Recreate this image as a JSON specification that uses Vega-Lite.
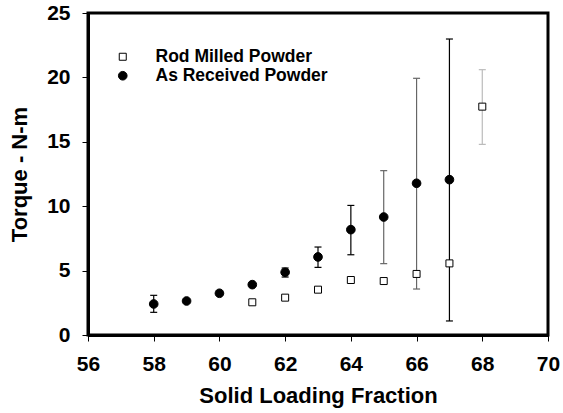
{
  "$schema": "https://vega.github.io/schema/vega-lite/v6.json",
  "width": 460,
  "height": 322,
  "autosize": {"type": "none"},
  "padding": {"left": 88, "top": 13, "right": 15, "bottom": 78},
  "background": "white",
  "config": {
    "font": "Liberation Sans",
    "view": {"stroke": "black", "strokeWidth": 3},
    "axis": {
      "grid": false,
      "domainColor": "black",
      "domainWidth": 3,
      "tickColor": "black",
      "tickWidth": 1,
      "tickSize": 6,
      "labelFont": "Liberation Sans",
      "labelFontSize": 21,
      "labelFontWeight": "bold",
      "labelColor": "black",
      "labelFlush": false,
      "labelOverlap": false,
      "titleFont": "Liberation Sans",
      "titleFontSize": 22,
      "titleFontWeight": "bold",
      "titleColor": "black"
    },
    "axisX": {"labelPadding": 12, "titleY": 67, "titleBaseline": "alphabetic"},
    "axisY": {"labelPadding": 12, "titleX": -62, "titleY": 161, "titleAngle": -90, "titleAlign": "center", "titleBaseline": "alphabetic"}
  },
  "data": {
    "values": [
      {"x": 58, "torque": 2.41, "lo": 1.76, "hi": 3.08, "powder": "As Received Powder"},
      {"x": 59, "torque": 2.64, "powder": "As Received Powder"},
      {"x": 60, "torque": 3.24, "powder": "As Received Powder"},
      {"x": 61, "torque": 3.91, "powder": "As Received Powder"},
      {"x": 62, "torque": 4.87, "lo": 4.5, "hi": 5.2, "powder": "As Received Powder"},
      {"x": 63, "torque": 6.06, "lo": 5.25, "hi": 6.83, "powder": "As Received Powder"},
      {"x": 64, "torque": 8.18, "lo": 6.23, "hi": 10.06, "powder": "As Received Powder"},
      {"x": 65, "torque": 9.16, "lo": 5.54, "hi": 12.76, "powder": "As Received Powder"},
      {"x": 66, "torque": 11.78, "lo": 3.57, "hi": 19.93, "powder": "As Received Powder"},
      {"x": 67, "torque": 12.06, "lo": 1.09, "hi": 22.98, "powder": "As Received Powder"},
      {"x": 61, "torque": 2.54, "powder": "Rod Milled Powder"},
      {"x": 62, "torque": 2.9, "powder": "Rod Milled Powder"},
      {"x": 63, "torque": 3.52, "powder": "Rod Milled Powder"},
      {"x": 64, "torque": 4.27, "powder": "Rod Milled Powder"},
      {"x": 65, "torque": 4.19, "powder": "Rod Milled Powder"},
      {"x": 66, "torque": 4.74, "powder": "Rod Milled Powder"},
      {"x": 67, "torque": 5.56, "powder": "Rod Milled Powder"},
      {"x": 68, "torque": 17.73, "lo": 14.8, "hi": 20.6, "powder": "Rod Milled Powder"}
    ]
  },
  "encoding": {
    "x": {
      "field": "x",
      "type": "quantitative",
      "title": "Solid Loading Fraction",
      "scale": {"domain": [56, 70], "nice": false, "zero": false},
      "axis": {"values": [56, 58, 60, 62, 64, 66, 68, 70]}
    }
  },
  "layer": [
    {
      "transform": [{"filter": "isValid(datum.lo)"}],
      "mark": {"type": "rule", "strokeWidth": 1.2, "opacity": 1},
      "encoding": {
        "y": {"field": "lo", "type": "quantitative", "title": "Torque - N-m", "scale": {"domain": [0, 25], "nice": false}, "axis": {"values": [0, 5, 10, 15, 20, 25]}},
        "y2": {"field": "hi"},
        "color": {"condition": [{"test": "datum.x == 68", "value": "#bbbbbb"}, {"test": "datum.x == 65 || datum.x == 66", "value": "#666666"}], "value": "black"}
      }
    },
    {
      "transform": [{"filter": "isValid(datum.lo)"}],
      "mark": {"type": "tick", "orient": "horizontal", "size": 7, "thickness": 1.2, "opacity": 1},
      "encoding": {
        "y": {"field": "lo", "type": "quantitative", "title": "Torque - N-m"},
        "color": {"condition": [{"test": "datum.x == 68", "value": "#bbbbbb"}, {"test": "datum.x == 65 || datum.x == 66", "value": "#666666"}], "value": "black"}
      }
    },
    {
      "transform": [{"filter": "isValid(datum.hi)"}],
      "mark": {"type": "tick", "orient": "horizontal", "size": 7, "thickness": 1.2, "opacity": 1},
      "encoding": {
        "y": {"field": "hi", "type": "quantitative", "title": "Torque - N-m"},
        "color": {"condition": [{"test": "datum.x == 68", "value": "#bbbbbb"}, {"test": "datum.x == 65 || datum.x == 66", "value": "#666666"}], "value": "black"}
      }
    },
    {
      "mark": {"type": "point", "stroke": "black", "strokeWidth": 1, "opacity": 1, "fillOpacity": 1},
      "encoding": {
        "y": {"field": "torque", "type": "quantitative", "title": "Torque - N-m"},
        "shape": {"field": "powder", "type": "nominal", "scale": {"domain": ["Rod Milled Powder", "As Received Powder"], "range": ["square", "circle"]}, "legend": {"orient": "none", "legendX": 26, "legendY": 35, "title": null, "padding": 0, "labelFont": "Liberation Sans", "labelFontSize": 17.5, "labelFontWeight": "bold", "labelColor": "black", "labelOffset": 24, "labelLimit": 400, "rowPadding": 0, "symbolStrokeColor": "black", "symbolStrokeWidth": 1}},
        "fill": {"field": "powder", "type": "nominal", "scale": {"domain": ["Rod Milled Powder", "As Received Powder"], "range": ["white", "black"]}},
        "size": {"field": "powder", "type": "nominal", "scale": {"domain": ["Rod Milled Powder", "As Received Powder"], "range": [49, 75]}}
      }
    }
  ]
}
